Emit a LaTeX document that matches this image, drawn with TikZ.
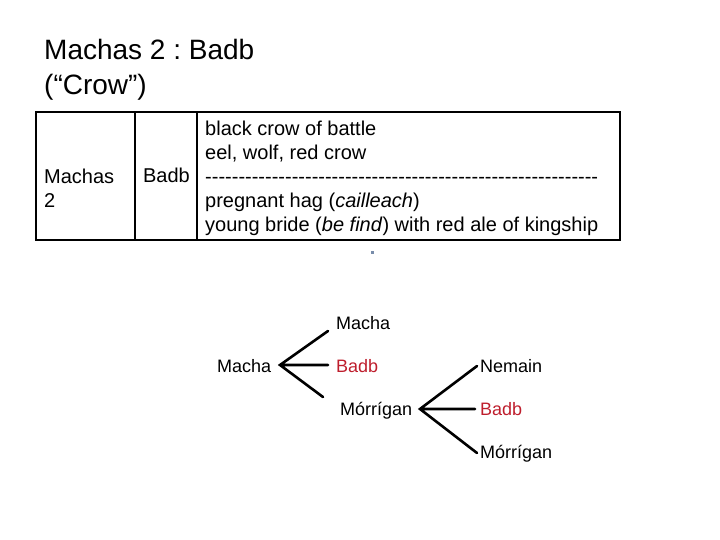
\documentclass[tikz,border=0pt]{standalone}
\usepackage{fontspec}
\setmainfont{Liberation Sans}
\newfontfamily\rowfont{Liberation Sans}
\frenchspacing
\definecolor{badbred}{RGB}{190,30,45}
\definecolor{dotblue}{RGB}{120,140,170}
\tikzset{
  heading/.style={anchor=base west, inner sep=0pt, font=\fontsize{28}{34}\selectfont},
  cell/.style={inner sep=0pt, align=left, font=\fontsize{20}{24}\selectfont},
  goddess/.style={anchor=base west, inner sep=0pt, font=\fontsize{18}{22}\selectfont},
  branch/.style={line width=2.6pt, line cap=round}
}
\newcommand{\dashrow}{{\rowfont\foreach \i in {1,...,59}{-}}}

\begin{document}
\begin{tikzpicture}[x=1pt, y=-1pt]
  \useasboundingbox (0,0) rectangle (720,540);
  % title
  \node[heading] (t1) at (44,60) {Machas 2 : Badb};
  \node[heading] (t2) at (44,95) {(“Crow”)};
  % table
  \draw[line width=2pt] (36,112) rectangle (620,240);
  \draw[line width=1.4pt] (135,112) -- (135,240) (197,112) -- (197,240);
  \node[cell, anchor=north west] (mach) at (44,169) {Machas\\2};
  \node[cell, anchor=base east] (badb) at (190,183) {Badb};
  \node[cell, anchor=north west] (desc) at (205,121)
    {black crow of battle\\eel, wolf, red crow\\\dashrow\\
     pregnant hag (\textit{cailleach})\\
     young bride (\textit{be find}) with red ale of kingship};
  \fill[dotblue] (370.5,250.5) rectangle (373.5,253.5);
  % first triad
  \node[goddess] (macL) at (217,372) {Macha};
  \node[goddess] (macT) at (336,329) {Macha};
  \node[goddess, text=badbred] (badbA) at (336,372) {Badb};
  \node[goddess] (morA) at (340,415) {Mórrígan};
  \coordinate (fa) at (280,365);
  \coordinate (fa1) at (328,331);
  \coordinate (fa2) at (328,365);
  \coordinate (fa3) at (323,397);
  \draw[branch] (fa1) -- (fa) -- (fa3) (fa) -- (fa2);
  % second triad
  \node[goddess] (nem) at (480,372) {Nemain};
  \node[goddess, text=badbred] (badbB) at (480,415) {Badb};
  \node[goddess] (morB) at (480,458) {Mórrígan};
  \coordinate (fb) at (420,409);
  \coordinate (fb1) at (477,366);
  \coordinate (fb2) at (475,409);
  \coordinate (fb3) at (477,453);
  \draw[branch] (fb1) -- (fb) -- (fb3) (fb) -- (fb2);
\end{tikzpicture}
\end{document}
